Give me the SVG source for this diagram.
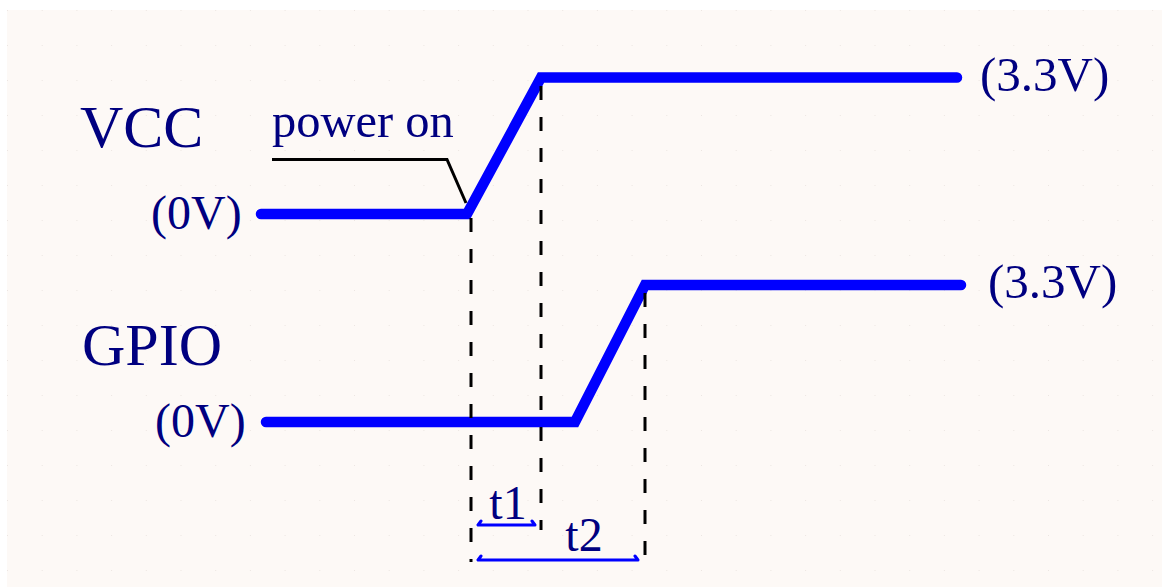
<svg xmlns="http://www.w3.org/2000/svg" width="1162" height="587" viewBox="0 0 1162 587">
  <defs>
    <style>
      .lbl { font-family: "Liberation Serif", "Times New Roman", serif; fill: #000080; }
      .sig { fill: none; stroke: #0000ff; stroke-width: 10.5; stroke-linecap: round; stroke-linejoin: miter; }
      .dash { fill: none; stroke: #000000; stroke-width: 3; stroke-dasharray: 14 17; }
      .dim { fill: none; stroke: #0000ff; stroke-width: 3; stroke-linecap: round; stroke-linejoin: round; }
      .call { fill: none; stroke: #000000; stroke-width: 3; }
    </style>
    <pattern id="grid" x="7" y="10" width="34.7" height="35" patternUnits="userSpaceOnUse">
      <rect x="0" y="0" width="1" height="1" fill="#ece6e2"/>
    </pattern>
  </defs>
  <rect x="0" y="0" width="1162" height="587" fill="#ffffff"/>
  <rect x="7" y="10" width="1155" height="577" fill="#fdf9f6"/>
  <rect x="7" y="10" width="1155" height="577" fill="url(#grid)"/>

  <g id="connectors">
    <path id="vcc-signal" class="sig" d="M261 214 L467 214 L541 77.5 L957 77.5"/>
    <path id="gpio-signal" class="sig" d="M266 422 L575 422 L645 285 L961 285"/>
    <path id="dash-t0" class="dash" d="M471 218 V562"/>
    <path id="dash-t1" class="dash" d="M541 86 V530"/>
    <path id="dash-t2" class="dash" d="M645 293 V562"/>
    <path id="callout" class="call" d="M272 159.5 L447 159.5 L466 203"/>
    <path id="dim-t1" class="dim" d="M481 521 L478 525 L535 525 L532 521"/>
    <path id="dim-t2" class="dim" d="M481 556 L478 560 L638 560 L635 556"/>
  </g>

  <g id="vcc">
    <text class="lbl" x="80" y="147" font-size="60">VCC</text>
    <text class="lbl" x="151" y="229" font-size="48">(0V)</text>
    <text class="lbl" x="980" y="91" font-size="49">(3.3V)</text>
  </g>
  <g id="power-on">
    <text class="lbl" x="272" y="137" font-size="48.5">power on</text>
  </g>
  <g id="gpio">
    <text class="lbl" x="82" y="365" font-size="60">GPIO</text>
    <text class="lbl" x="155" y="437" font-size="48">(0V)</text>
    <text class="lbl" x="988" y="298" font-size="49">(3.3V)</text>
  </g>
  <g id="t1">
    <text class="lbl" x="508" y="519" font-size="48" text-anchor="middle">t1</text>
  </g>
  <g id="t2">
    <text class="lbl" x="584" y="551" font-size="48" text-anchor="middle">t2</text>
  </g>
</svg>
